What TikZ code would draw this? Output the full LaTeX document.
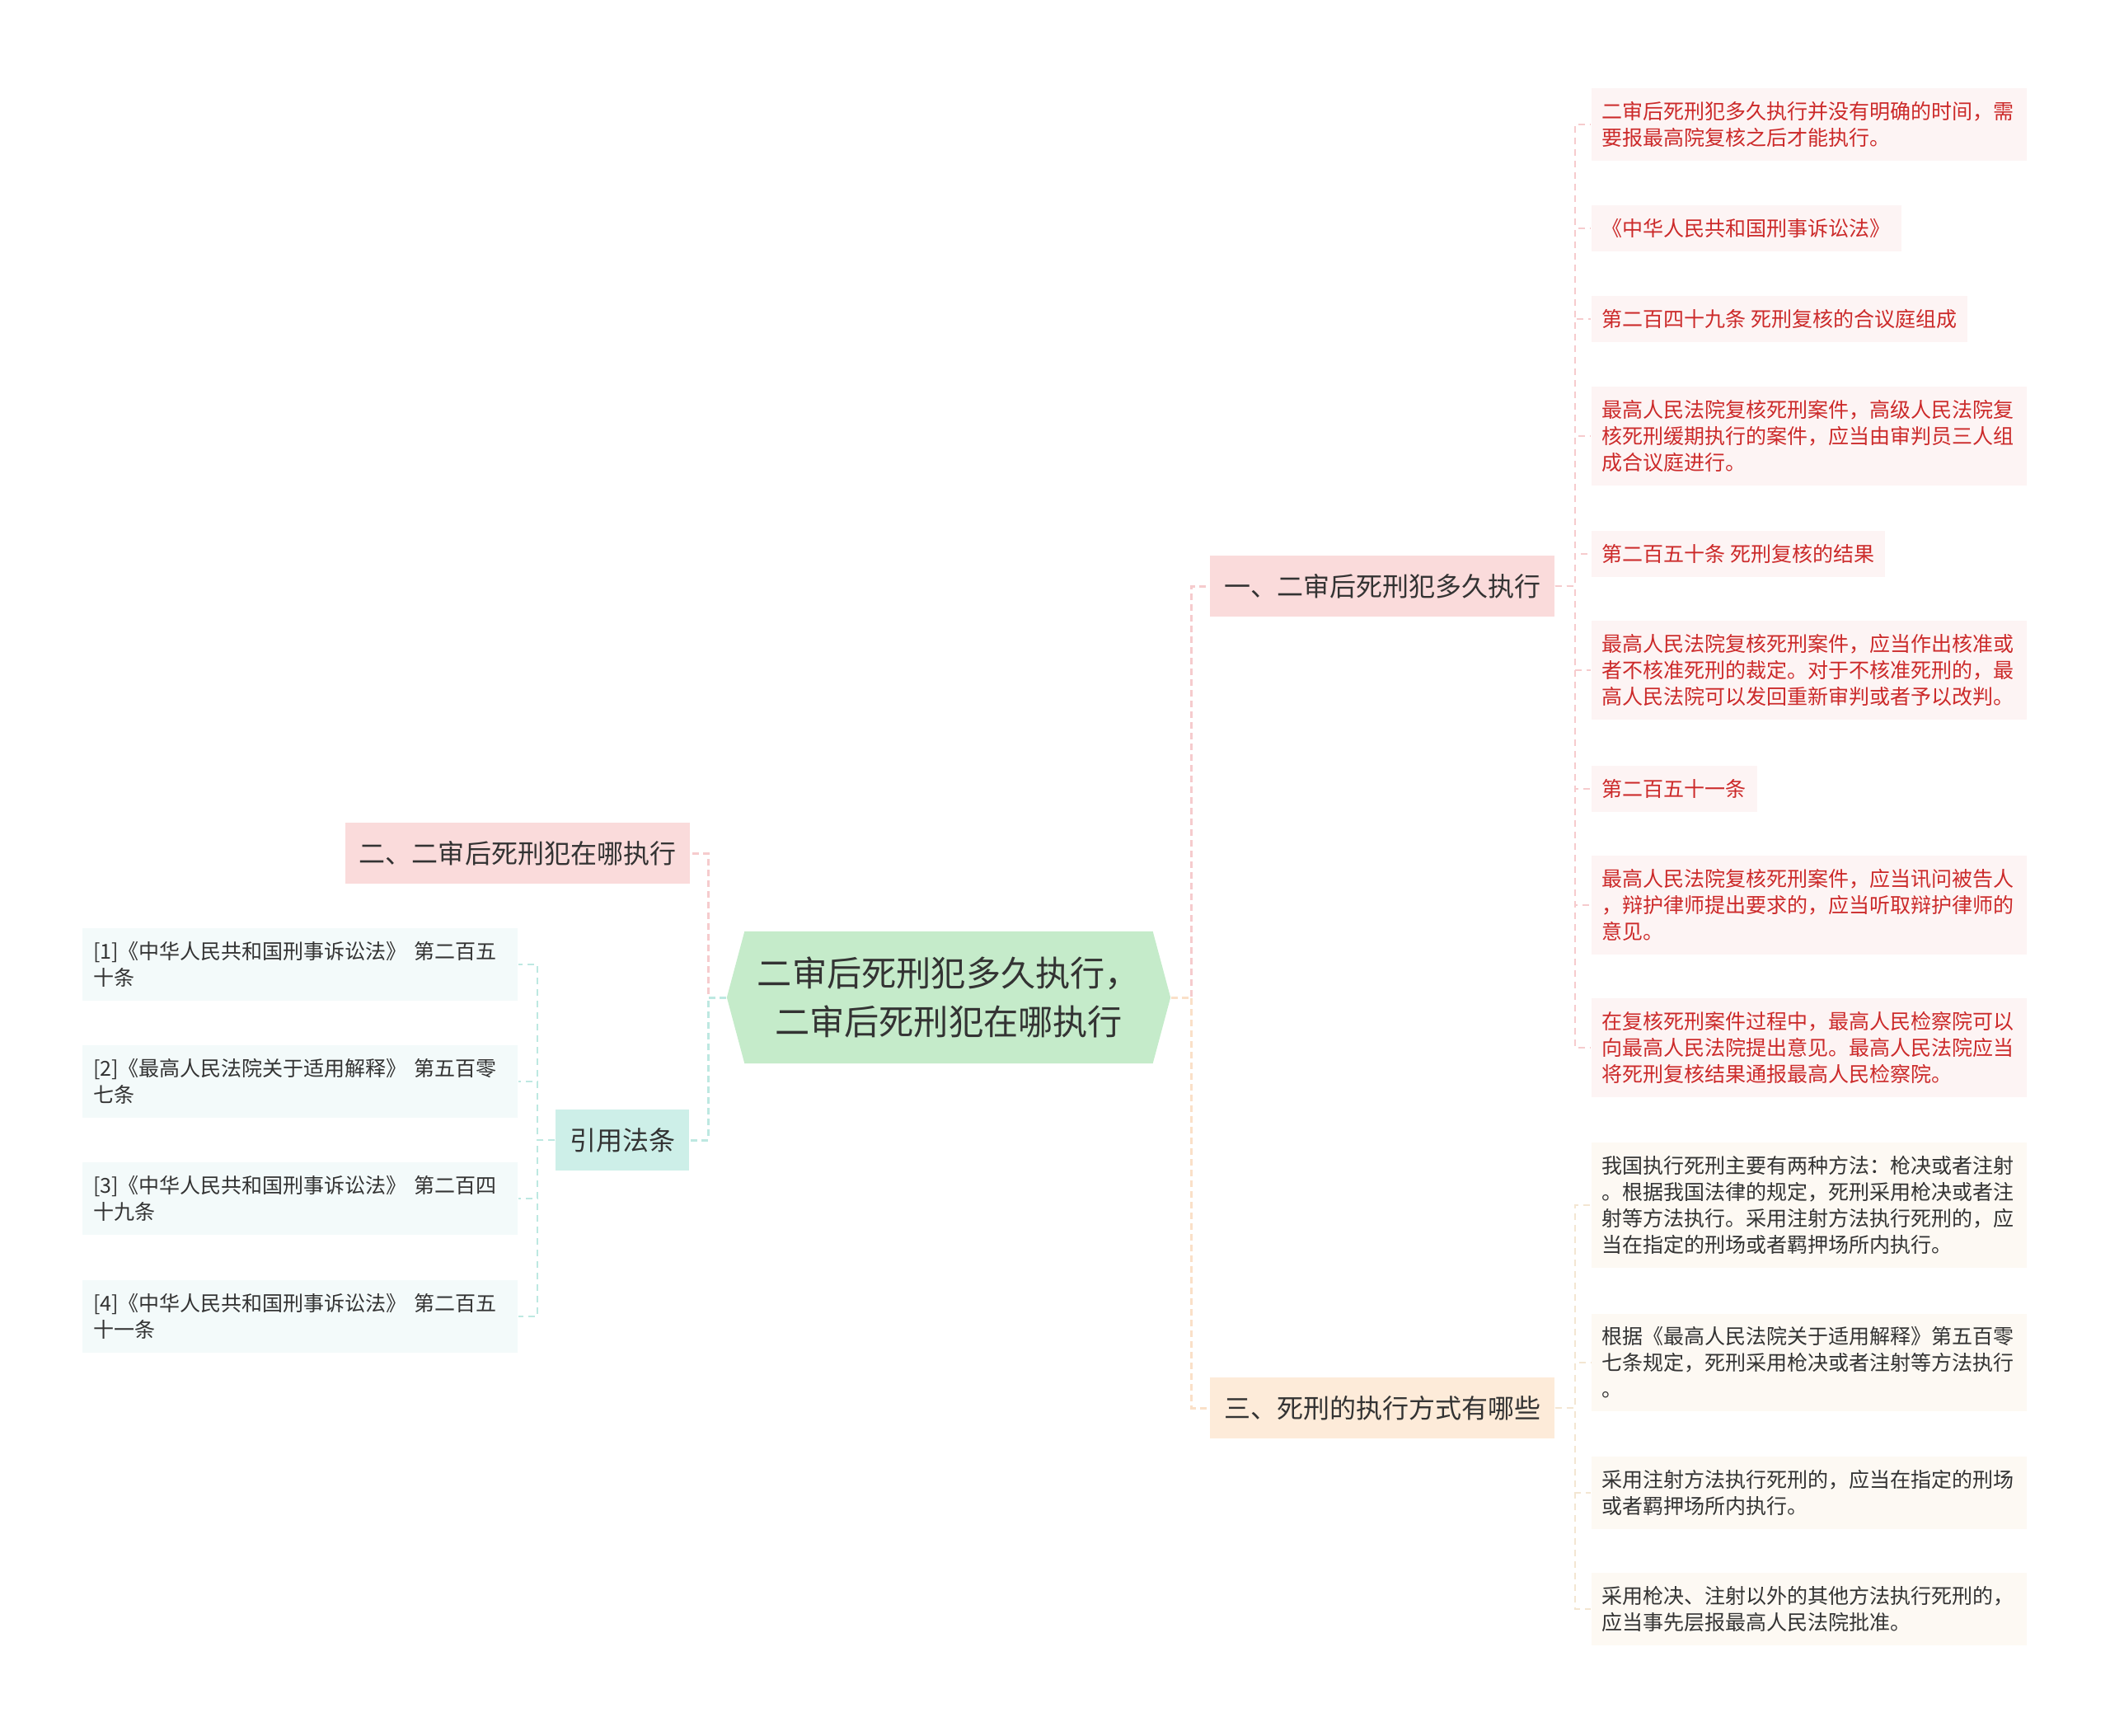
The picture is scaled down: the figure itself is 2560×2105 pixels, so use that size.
\documentclass[tikz,border=0pt]{standalone}
\usepackage{fontspec}
\setmainfont{Noto Sans CJK SC}
\usetikzlibrary{shapes.symbols}

\definecolor{rootgreen}{HTML}{C5EBCA}
\definecolor{pinkbox}{HTML}{FADBDB}
\definecolor{tealbox}{HTML}{CDEFE8}
\definecolor{peachbox}{HTML}{FDEBD9}
\definecolor{leafpink}{HTML}{FDF4F4}
\definecolor{leafcream}{HTML}{FDF9F3}
\definecolor{leafblue}{HTML}{F3FAFA}
\definecolor{redtxt}{HTML}{CC2A2A}
\definecolor{darktxt}{HTML}{333333}
\definecolor{pinkline}{HTML}{F6CBCD}
\definecolor{tealline}{HTML}{BDE8E1}
\definecolor{peachline}{HTML}{FAE0C8}
\definecolor{creamline}{HTML}{F3E6D2}

\begin{document}
\begin{tikzpicture}[x=0.01cm, y=-0.01cm,
    root/.style={signal, signal from=nowhere, signal to=east and west, signal pointer angle=150,
      fill=rootgreen, minimum width=5.38cm, minimum height=1.6cm, inner sep=0pt,
      align=center, text=darktxt, font=\fontsize{12}{16.7}\selectfont},
    topic/.style={rectangle, fill=#1, minimum height=0.74cm, inner xsep=0.17cm,
      text=darktxt, font=\fontsize{9.1}{11}\selectfont},
    leaf/.style={rectangle, fill=#1, inner xsep=0.13cm, inner ysep=0.16cm, align=left,
      font=\fontsize{7.11}{9.1}\selectfont},
    wide/.style={text width=5.02cm},
    link/.style={line width=0.85pt, dash pattern=on 0.08cm off 0.05cm},
    twig/.style={line width=0.55pt, dash pattern=on 0.08cm off 0.06cm}]
    \useasboundingbox (0,0) rectangle (2560,2105);

    \node[root] (root) at (1151,1210) {二审后死刑犯多久执行，\\二审后死刑犯在哪执行};

    \node[topic=pinkbox] (a1) at (1677,711) {一、二审后死刑犯多久执行};
    \node[topic=pinkbox] (a2) at (628,1035) {二、二审后死刑犯在哪执行};
    \node[topic=tealbox] (a3) at (755,1383) {引用法条};
    \node[topic=peachbox] (a4) at (1677,1708) {三、死刑的执行方式有哪些};

    % branch one
    \node[leaf=leafpink, wide, text=redtxt, anchor=west] (r1) at (1930,151) {二审后死刑犯多久执行并没有明确的时间，需\\要报最高院复核之后才能执行。};
    \node[leaf=leafpink, text=redtxt, anchor=west] (r2) at (1930,277) {《中华人民共和国刑事诉讼法》};
    \node[leaf=leafpink, text=redtxt, anchor=west] (r3) at (1930,387) {第二百四十九条 死刑复核的合议庭组成};
    \node[leaf=leafpink, wide, text=redtxt, anchor=west] (r4) at (1930,529) {最高人民法院复核死刑案件，高级人民法院复\\核死刑缓期执行的案件，应当由审判员三人组\\成合议庭进行。};
    \node[leaf=leafpink, text=redtxt, anchor=west] (r5) at (1930,672) {第二百五十条 死刑复核的结果};
    \node[leaf=leafpink, wide, text=redtxt, anchor=west] (r6) at (1930,813) {最高人民法院复核死刑案件，应当作出核准或\\者不核准死刑的裁定。对于不核准死刑的，最\\高人民法院可以发回重新审判或者予以改判。};
    \node[leaf=leafpink, text=redtxt, anchor=west] (r7) at (1930,957) {第二百五十一条};
    \node[leaf=leafpink, wide, text=redtxt, anchor=west] (r8) at (1930,1098) {最高人民法院复核死刑案件，应当讯问被告人\\，辩护律师提出要求的，应当听取辩护律师的\\意见。};
    \node[leaf=leafpink, wide, text=redtxt, anchor=west] (r9) at (1930,1271) {在复核死刑案件过程中，最高人民检察院可以\\向最高人民法院提出意见。最高人民法院应当\\将死刑复核结果通报最高人民检察院。};

    % branch three
    \node[leaf=leafcream, wide, text=darktxt, anchor=west] (b1) at (1930,1462) {我国执行死刑主要有两种方法：枪决或者注射\\。根据我国法律的规定，死刑采用枪决或者注\\射等方法执行。采用注射方法执行死刑的，应\\当在指定的刑场或者羁押场所内执行。};
    \node[leaf=leafcream, wide, text=darktxt, anchor=west] (b2) at (1930,1653) {根据《最高人民法院关于适用解释》第五百零\\七条规定，死刑采用枪决或者注射等方法执行\\。};
    \node[leaf=leafcream, wide, text=darktxt, anchor=west] (b3) at (1930,1811) {采用注射方法执行死刑的，应当在指定的刑场\\或者羁押场所内执行。};
    \node[leaf=leafcream, wide, text=darktxt, anchor=west] (b4) at (1930,1952) {采用枪决、注射以外的其他方法执行死刑的，\\应当事先层报最高人民法院批准。};

    % cited articles
    \node[leaf=leafblue, wide, text=darktxt, anchor=east] (l1) at (629,1170) {[1]《中华人民共和国刑事诉讼法》 第二百五\\十条};
    \node[leaf=leafblue, wide, text=darktxt, anchor=east] (l2) at (629,1312) {[2]《最高人民法院关于适用解释》 第五百零\\七条};
    \node[leaf=leafblue, wide, text=darktxt, anchor=east] (l3) at (629,1454) {[3]《中华人民共和国刑事诉讼法》 第二百四\\十九条};
    \node[leaf=leafblue, wide, text=darktxt, anchor=east] (l4) at (629,1597) {[4]《中华人民共和国刑事诉讼法》 第二百五\\十一条};

    \draw[link, pinkline] (root.east) -- ++(25,0) |- (a1.west);
    \draw[link, peachline] (root.east) -- ++(25,0) |- (a4.west);
    \draw[link, pinkline] (root.west) -- ++(-22,0) |- (a2.east);
    \draw[link, tealline] (root.west) -- ++(-22,0) |- (a3.east);

    \foreach \i in {1,...,9}
        \draw[twig, pinkline] (a1.east) -- ++(24,0) |- (r\i.west);
    \foreach \i in {1,...,4}
        \draw[twig, creamline] (a4.east) -- ++(24,0) |- (b\i.west);
    \foreach \i in {1,...,4}
        \draw[twig, tealline] (a3.west) -- ++(-21,0) |- (l\i.east);
\end{tikzpicture}
\end{document}
